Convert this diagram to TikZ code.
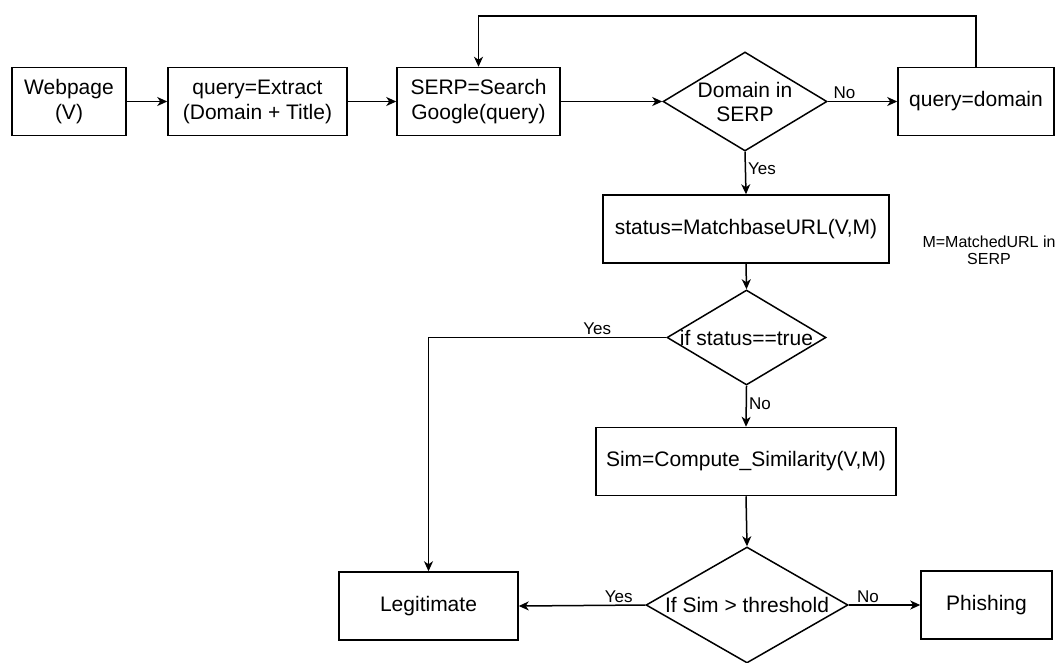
\documentclass[tikz,border=0pt]{standalone}
\usepackage{fontspec}
\setmainfont{Liberation Sans}
\usetikzlibrary{shapes.geometric,arrows.meta}
\begin{document}
\begin{tikzpicture}[x=1pt,y=-1pt,
  box/.style={draw,line width=1.5pt,rectangle,inner sep=0pt,minimum height=68pt,align=center,font=\fontsize{21}{25}\selectfont},
  dia/.style={draw,line width=1.5pt,diamond,inner sep=0pt},
  dtext/.style={align=center,inner sep=0pt,font=\fontsize{21}{24}\selectfont},
  lbl/.style={inner sep=2pt,font=\fontsize{17}{20}\selectfont},
  note/.style={align=center,inner sep=0pt,font=\fontsize{16}{17}\selectfont},
  arr/.style={line width=1.5pt,-{Stealth[length=10pt,width=9pt,inset=3pt]}},
  ln/.style={line width=1.5pt}]
\useasboundingbox (0,0) rectangle (1059,662);

\node[box,minimum width=114pt] (web) at (69,101.5) {Webpage\\(V)};
\node[box,minimum width=179pt] (qry) at (257.5,101.5) {query=Extract\\(Domain + Title)};
\node[box,minimum width=163pt] (serp) at (478.5,101.5) {SERP=Search\\Google(query)};
\node[dia,minimum width=164pt,minimum height=99pt] (d1) at (745,101.5) {};
\node[dtext] (d1t) at (d1.center) {Domain in\\SERP};
\node[box,minimum width=156pt] (qd) at (976,101.5) {query=domain};

\node[box,minimum width=286pt] (st) at (746,229) {status=MatchbaseURL(V,M)};
\node[note] (mnote) at (989,250) {M=MatchedURL in\\SERP};

\node[dia,minimum width=159pt,minimum height=95pt] (d2) at (746.5,337.5) {};
\node[dtext] (d2t) at (d2.center) {if status==true};

\node[box,minimum width=300pt] (sim) at (746,461.5) {Sim=Compute\_Similarity(V,M)};

\node[dia,minimum width=202pt,minimum height=116pt] (d3) at (747,605) {};
\node[dtext] (d3t) at (d3.center) {If Sim > threshold};

\node[box,minimum width=179pt] (leg) at (428.5,606) {Legitimate};
\node[box,minimum width=131pt] (phi) at (986.5,605) {Phishing};

\draw[arr] (web) -- (qry);
\draw[arr] (qry) -- (serp);
\draw[arr] (serp.east) -- (d1.west);
\draw[arr] (d1.east) -- node[lbl,pos=0.24,anchor=south]{No} (qd.west);
\draw[arr] (qd.north) -- (qd.north |- 0,16) -| (serp.north);
\draw[arr] (d1.south) -- node[lbl,pos=0.39,anchor=west]{Yes} (st.north);
\draw[arr] (st.south) -- (d2.north);
\draw[arr] (d2.west) -| node[lbl,pos=0.145,anchor=south]{Yes} (leg.north);
\draw[arr] (d2.south) -- node[lbl,pos=0.43,anchor=west]{No} (sim.north);
\draw[arr] (sim.south) -- (d3.north);
\draw[arr] (d3.west) -- node[lbl,pos=0.21,anchor=south]{Yes} (leg.east);
\draw[arr] (d3.east) -- node[lbl,pos=0.27,anchor=south]{No} (phi.west);
\end{tikzpicture}
\end{document}
